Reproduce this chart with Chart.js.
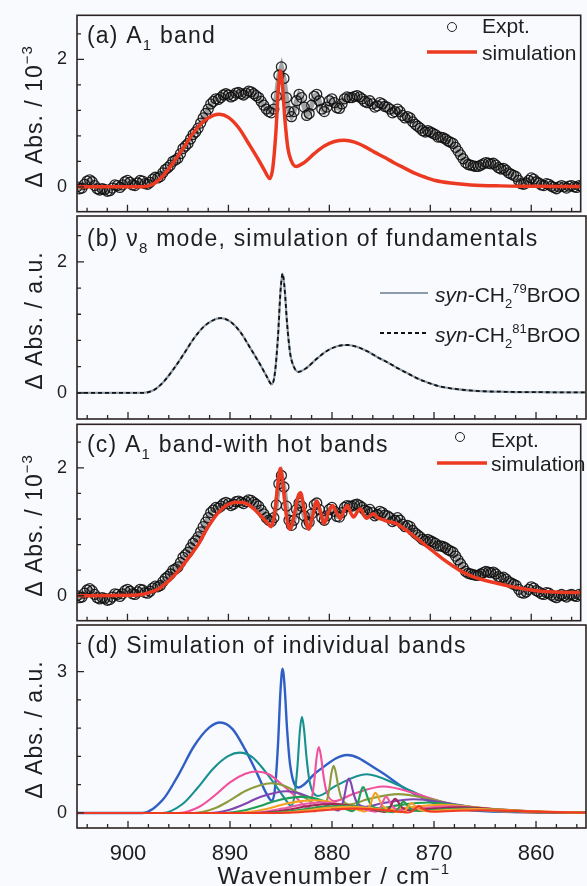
<!DOCTYPE html>
<html>
<head>
<meta charset="utf-8">
<script src="https://cdn.jsdelivr.net/npm/chart.js@4.4.0/dist/chart.umd.min.js"></script>
<style>
  body { margin: 0; background: #f9fafd; }
  #wrap { position: relative; width: 587px; height: 886px; overflow: hidden; background: #f9fafd; }
  canvas { position: absolute; left: 0; }
</style>
</head>
<body>
<div id="wrap">
  <canvas id="panelA" width="587" height="209" style="top:9px"></canvas>
  <canvas id="panelB" width="587" height="209" style="top:213px"></canvas>
  <canvas id="panelC" width="587" height="209" style="top:418px"></canvas>
  <canvas id="panelD" width="587" height="264" style="top:622px"></canvas>
</div>
<script>
// Axis ticks
const xMajor = [900, 890, 880, 870, 860];
const xMinor = [904, 902, 898, 896, 894, 892, 888, 886, 884, 882, 878, 876, 874, 872, 868, 866, 864, 862, 858, 856];
const yMajorABC = [0, 2];
const yMinorABC = [0.4, 0.8, 1.2, 1.6, 2.4];
const yMajorD = [0, 3];
const yMinorD = [0.6, 1.2, 1.8, 2.4, 3.6];

// Experimental spectrum (wavenumber / cm-1, dAbs / 1e-3)
const exptWn = [
  905, 904.75, 904.5, 904.25, 904, 903.75, 903.5, 903.25,
  903, 902.75, 902.5, 902.25, 902, 901.75, 901.5, 901.25,
  901, 900.75, 900.5, 900.25, 900, 899.75, 899.5, 899.25,
  899, 898.75, 898.5, 898.25, 898, 897.75, 897.5, 897.25,
  897, 896.75, 896.5, 896.25, 896, 895.75, 895.5, 895.25,
  895, 894.75, 894.5, 894.25, 894, 893.75, 893.5, 893.25,
  893, 892.75, 892.5, 892.25, 892, 891.75, 891.5, 891.25,
  891, 890.75, 890.5, 890.25, 890, 889.75, 889.5, 889.25,
  889, 888.75, 888.5, 888.25, 888, 887.75, 887.5, 887.25,
  887, 886.75, 886.5, 886.25, 886, 885.75, 885.5, 885.25,
  885, 884.75, 884.5, 884.25, 884, 883.75, 883.5, 883.25,
  883, 882.75, 882.5, 882.25, 882, 881.75, 881.5, 881.25,
  881, 880.75, 880.5, 880.25, 880, 879.75, 879.5, 879.25,
  879, 878.75, 878.5, 878.25, 878, 877.75, 877.5, 877.25,
  877, 876.75, 876.5, 876.25, 876, 875.75, 875.5, 875.25,
  875, 874.75, 874.5, 874.25, 874, 873.75, 873.5, 873.25,
  873, 872.75, 872.5, 872.25, 872, 871.75, 871.5, 871.25,
  871, 870.75, 870.5, 870.25, 870, 869.75, 869.5, 869.25,
  869, 868.75, 868.5, 868.25, 868, 867.75, 867.5, 867.25,
  867, 866.75, 866.5, 866.25, 866, 865.75, 865.5, 865.25,
  865, 864.75, 864.5, 864.25, 864, 863.75, 863.5, 863.25,
  863, 862.75, 862.5, 862.25, 862, 861.75, 861.5, 861.25,
  861, 860.75, 860.5, 860.25, 860, 859.75, 859.5, 859.25,
  859, 858.75, 858.5, 858.25, 858, 857.75, 857.5, 857.25,
  857, 856.75, 856.5, 856.25, 856, 855.75, 855.5, 855.25,
  855
];
const exptAbs = [
  0.00, -0.03, -0.02, 0.04, 0.09, 0.11, 0.08, 0.02,
  -0.03, -0.05, -0.03, -0.04, -0.07, -0.06, -0.02, 0.03,
  0.02, -0.01, 0.03, 0.08, 0.10, 0.07, 0.03, 0.02,
  0.06, 0.10, 0.09, 0.05, 0.04, 0.07, 0.12, 0.15,
  0.14, 0.16, 0.22, 0.27, 0.30, 0.34, 0.40, 0.42,
  0.45, 0.52, 0.60, 0.64, 0.68, 0.75, 0.82, 0.86,
  0.92, 1.00, 1.08, 1.15, 1.22, 1.30, 1.34, 1.38,
  1.37, 1.40, 1.44, 1.46, 1.44, 1.41, 1.43, 1.47,
  1.48, 1.46, 1.44, 1.47, 1.50, 1.49, 1.46, 1.43,
  1.40, 1.34, 1.28, 1.22, 1.18, 1.16, 1.22, 1.42,
  1.75, 1.88, 1.70, 1.40, 1.18, 1.10, 1.18, 1.35,
  1.45, 1.40, 1.25, 1.12, 1.15, 1.28, 1.42, 1.45,
  1.35, 1.22, 1.18, 1.25, 1.35, 1.38, 1.32, 1.24,
  1.23, 1.30, 1.38, 1.41, 1.40, 1.40, 1.42, 1.43,
  1.41, 1.38, 1.34, 1.32, 1.35, 1.30, 1.25, 1.27,
  1.32, 1.30, 1.26, 1.25, 1.22, 1.16, 1.18, 1.22,
  1.18, 1.12, 1.08, 1.10, 1.08, 1.02, 0.98, 0.95,
  0.92, 0.88, 0.86, 0.88, 0.86, 0.84, 0.82, 0.78,
  0.78, 0.77, 0.75, 0.72, 0.70, 0.68, 0.62, 0.56,
  0.50, 0.44, 0.38, 0.35, 0.34, 0.33, 0.32, 0.32,
  0.34, 0.36, 0.38, 0.37, 0.36, 0.37, 0.34, 0.30,
  0.28, 0.29, 0.26, 0.22, 0.20, 0.18, 0.16, 0.10,
  0.05, 0.04, 0.06, 0.10, 0.14, 0.12, 0.08, 0.06,
  0.03, 0.02, 0.05, 0.04, 0.01, -0.01, -0.03, 0.00,
  0.02, 0.00, -0.02, 0.01, 0.02, 0.00, -0.01, 0.02,
  0.01
];

// Simulated fundamental (panels a and b)
const fundWn = [905, 898.5, 897.5, 896.5, 895.5, 894.5, 893.5, 892.5, 891.5, 890.9,
  890, 889, 888, 887, 886.4, 885.9, 885.6, 885.3, 885.05, 884.85,
  884.65, 884.4, 884.1, 883.8, 883.3, 882.5, 881.5, 880.5, 879.5, 878.5,
  877.5, 876.5, 875.5, 874.5, 873.5, 872.5, 871.5, 870.5, 869.5, 868,
  866, 863, 860, 855];
const fundAbs = [0, 0, 0.04, 0.17, 0.37, 0.6, 0.84, 1.02, 1.12, 1.14,
  1.09, 0.93, 0.68, 0.42, 0.25, 0.13, 0.3, 0.85, 1.55, 1.82,
  1.6, 1.05, 0.6, 0.42, 0.32, 0.38, 0.52, 0.64, 0.71, 0.73,
  0.7, 0.63, 0.54, 0.46, 0.37, 0.29, 0.21, 0.15, 0.1, 0.06,
  0.03, 0.015, 0.01, 0.005];

// Simulation with hot bands (panel c)
const hotWn = [905, 899, 898, 897, 896, 895, 894, 893, 892, 891,
  890, 889, 888.2, 887.5, 886.8, 886.2, 885.75, 885.4, 885.1, 884.85,
  884.6, 884.3, 883.9, 883.5, 883.1, 882.85, 882.55, 882.05, 881.65, 881.25,
  880.95, 880.5, 880.1, 879.7, 879.3, 878.9, 878.55, 878.2, 877.9, 877.6,
  877.2, 876.9, 876.6, 876.3, 875.9, 875.6, 875.2, 874.7, 874.2, 873.4,
  872.8, 872, 871.2, 870.4, 869.6, 868.8, 867.8, 866.8, 865.8, 864.8,
  863.5, 862.2, 860.5, 859, 857, 855];
const hotAbs = [0, 0.01, 0.04, 0.1, 0.22, 0.38, 0.58, 0.8, 1.08, 1.3,
  1.43, 1.46, 1.44, 1.36, 1.25, 1.15, 1.08, 1.3, 1.75, 1.99,
  1.75, 1.3, 1.04, 1.25, 1.55, 1.61, 1.4, 1.04, 1.25, 1.48,
  1.35, 1.13, 1.3, 1.41, 1.3, 1.21, 1.33, 1.41, 1.3, 1.23,
  1.32, 1.36, 1.26, 1.21, 1.26, 1.28, 1.22, 1.19, 1.16, 1.13,
  1.07, 0.98, 0.88, 0.78, 0.68, 0.58, 0.47, 0.37, 0.3, 0.25,
  0.2, 0.15, 0.1, 0.07, 0.055, 0.05];

// Individual bands (panel d)
const blueWn = [905, 898.55, 896.55, 895.05, 893.55, 892.05, 890.95, 889.75, 888.55, 887.35, 886.45, 885.9, 885.6, 885.3, 885.05, 884.85, 884.65, 884.4, 884.1, 883.3, 881.5, 878.5, 875.5, 872.5, 869.5, 866, 860.85, 855];
const blueAbs = [0, 0, 0.29, 0.81, 1.41, 1.81, 1.92, 1.78, 1.36, 0.84, 0.42, 0.26, 0.5, 1.43, 2.6, 3.06, 2.69, 1.76, 1.01, 0.54, 0.87, 1.23, 0.91, 0.47, 0.17, 0.05, 0.017, 0.01];
const tealWn = [905, 896.65, 894.65, 893.15, 891.65, 890.15, 889.05, 887.85, 886.65, 885.45, 884.55, 884, 883.7, 883.4, 883.15, 882.95, 882.75, 882.5, 882.2, 881.4, 879.6, 876.6, 873.6, 870.6, 867.6, 864.1, 858.95, 855];
const tealAbs = [0, 0, 0.19, 0.54, 0.94, 1.21, 1.28, 1.19, 0.91, 0.56, 0.28, 0.15, 0.34, 0.95, 1.74, 2.04, 1.79, 1.18, 0.67, 0.36, 0.58, 0.82, 0.6, 0.31, 0.11, 0.034, 0.011, 0.006];
const pinkWn = [905, 895, 893, 891.5, 890, 888.5, 887.4, 886.2, 885, 883.8, 882.9, 882.35, 882.05, 881.75, 881.5, 881.3, 881.1, 880.85, 880.55, 879.75, 877.95, 874.95, 871.95, 868.95, 865.95, 862.45, 857.3, 855];
const pinkAbs = [0, 0, 0.13, 0.37, 0.65, 0.83, 0.88, 0.82, 0.62, 0.39, 0.19, 0.1, 0.23, 0.65, 1.19, 1.4, 1.23, 0.81, 0.46, 0.25, 0.4, 0.56, 0.42, 0.22, 0.077, 0.023, 0.008, 0.006];
const oliveWn = [905, 893.55, 891.55, 890.05, 888.55, 887.05, 885.95, 884.75, 883.55, 882.35, 881.45, 880.9, 880.6, 880.3, 880.05, 879.85, 879.65, 879.4, 879.1, 878.3, 876.5, 873.5, 870.5, 867.5, 864.5, 861, 855.85, 855];
const oliveAbs = [0, 0, 0.094, 0.26, 0.46, 0.59, 0.63, 0.58, 0.45, 0.28, 0.14, 0.072, 0.17, 0.47, 0.85, 1.0, 0.88, 0.58, 0.33, 0.18, 0.29, 0.4, 0.3, 0.15, 0.055, 0.017, 0.006, 0.005];
const purpleWn = [905, 892.05, 890.05, 888.55, 887.05, 885.55, 884.45, 883.25, 882.05, 880.85, 879.95, 879.4, 879.1, 878.8, 878.55, 878.35, 878.15, 877.9, 877.6, 876.8, 875, 872, 869, 866, 863, 859.5, 855];
const purpleAbs = [0, 0, 0.068, 0.19, 0.34, 0.43, 0.46, 0.42, 0.32, 0.2, 0.1, 0.052, 0.12, 0.34, 0.62, 0.73, 0.64, 0.42, 0.24, 0.13, 0.21, 0.29, 0.22, 0.11, 0.04, 0.012, 0.005];
const greenWn = [905, 890.65, 888.65, 887.15, 885.65, 884.15, 883.05, 881.85, 880.65, 879.45, 878.55, 878, 877.7, 877.4, 877.15, 876.95, 876.75, 876.5, 876.2, 875.4, 873.6, 870.6, 867.6, 864.6, 861.6, 858.1, 855];
const greenAbs = [0, 0, 0.051, 0.14, 0.25, 0.32, 0.34, 0.32, 0.24, 0.15, 0.075, 0.039, 0.09, 0.26, 0.47, 0.55, 0.48, 0.32, 0.18, 0.096, 0.16, 0.22, 0.16, 0.084, 0.03, 0.009, 0.004];
const orangeWn = [905, 889.45, 887.45, 885.95, 884.45, 882.95, 881.85, 880.65, 879.45, 878.25, 877.35, 876.8, 876.5, 876.2, 875.95, 875.75, 875.55, 875.3, 875, 874.2, 872.4, 869.4, 866.4, 863.4, 860.4, 856.9, 855];
const orangeAbs = [0, 0, 0.04, 0.11, 0.2, 0.25, 0.27, 0.25, 0.19, 0.12, 0.059, 0.031, 0.07, 0.2, 0.36, 0.43, 0.38, 0.25, 0.14, 0.075, 0.12, 0.17, 0.13, 0.066, 0.024, 0.007, 0.004];
const pink2Wn = [905, 888.4, 886.4, 884.9, 883.4, 881.9, 880.8, 879.6, 878.4, 877.2, 876.3, 875.75, 875.45, 875.15, 874.9, 874.7, 874.5, 874.25, 873.95, 873.15, 871.35, 868.35, 865.35, 862.35, 859.35, 855.85, 855];
const pink2Abs = [0, 0, 0.032, 0.091, 0.16, 0.21, 0.22, 0.2, 0.15, 0.095, 0.048, 0.025, 0.057, 0.16, 0.29, 0.35, 0.3, 0.2, 0.11, 0.061, 0.099, 0.14, 0.1, 0.053, 0.019, 0.006, 0.005];
const maroonWn = [905, 887.5, 885.5, 884, 882.5, 881, 879.9, 878.7, 877.5, 876.3, 875.4, 874.85, 874.55, 874.25, 874, 873.8, 873.6, 873.35, 873.05, 872.25, 870.45, 867.45, 864.45, 861.45, 858.45, 855];
const maroonAbs = [0, 0, 0.028, 0.079, 0.14, 0.18, 0.19, 0.17, 0.13, 0.083, 0.041, 0.021, 0.05, 0.14, 0.26, 0.3, 0.26, 0.17, 0.1, 0.053, 0.086, 0.12, 0.089, 0.046, 0.017, 0.006];
const green2Wn = [905, 886.7, 884.7, 883.2, 881.7, 880.2, 879.1, 877.9, 876.7, 875.5, 874.6, 874.05, 873.75, 873.45, 873.2, 873, 872.8, 872.55, 872.25, 871.45, 869.65, 866.65, 863.65, 860.65, 857.65, 855];
const green2Abs = [0, 0, 0.022, 0.062, 0.11, 0.14, 0.15, 0.14, 0.11, 0.065, 0.033, 0.017, 0.039, 0.11, 0.2, 0.24, 0.21, 0.14, 0.078, 0.042, 0.068, 0.095, 0.07, 0.036, 0.013, 0.005];
const orange2Wn = [905, 885.9, 883.9, 882.4, 880.9, 879.4, 878.3, 877.1, 875.9, 874.7, 873.8, 873.25, 872.95, 872.65, 872.4, 872.2, 872, 871.75, 871.45, 870.65, 868.85, 865.85, 862.85, 859.85, 856.85, 855];
const orange2Abs = [0, 0, 0.02, 0.055, 0.097, 0.12, 0.13, 0.12, 0.093, 0.058, 0.029, 0.015, 0.035, 0.098, 0.18, 0.21, 0.18, 0.12, 0.069, 0.037, 0.06, 0.084, 0.062, 0.032, 0.012, 0.005];
const redWn = [905, 885.2, 883.2, 881.7, 880.2, 878.7, 877.6, 876.4, 875.2, 874, 873.1, 872.55, 872.25, 871.95, 871.7, 871.5, 871.3, 871.05, 870.75, 869.95, 868.15, 865.15, 862.15, 859.15, 856.15, 855];
const redAbs = [0, 0, 0.014, 0.038, 0.067, 0.086, 0.091, 0.085, 0.065, 0.04, 0.02, 0.01, 0.024, 0.068, 0.12, 0.146, 0.128, 0.084, 0.048, 0.026, 0.042, 0.058, 0.043, 0.022, 0.008, 0.004];

const bandWn = [blueWn, tealWn, pinkWn, oliveWn, purpleWn, greenWn, orangeWn, pink2Wn, maroonWn, green2Wn, orange2Wn, redWn];
const bandAbs = [blueAbs, tealAbs, pinkAbs, oliveAbs, purpleAbs, greenAbs, orangeAbs, pink2Abs, maroonAbs, green2Abs, orange2Abs, redAbs];
const bandColors = ["#2f5fc4", "#18908f", "#f0509c", "#8e9a3e", "#8045b3", "#1f9e57",
  "#f5a11f", "#ea5ba3", "#a0255a", "#2a9a4a", "#f7a030", "#ef3b24"];

const FONT = '"Liberation Sans", Arial, Helvetica, sans-serif';
const BG = "#f9fafd";
const INK = "#1e1e1e";
const RED = "#ec3a22";

function pts(xs, ys) {
  return xs.map((x, i) => ({ x: x, y: ys[i] }));
}

// rich text: parts are [text, kind], kind = "" | "i" | "sub" | "sup"
function partFont(p, size) {
  const small = p[1] === "sub" || p[1] === "sup";
  const s = small ? Math.round(size * 0.64) : size;
  return (p[1] === "i" ? "italic " : "") + s + "px " + FONT;
}
function richWidth(ctx, parts, size) {
  let w = 0;
  parts.forEach((p) => {
    ctx.font = partFont(p, size);
    w += ctx.measureText(p[0]).width;
  });
  return w;
}
function drawRich(ctx, parts, x, y, size) {
  let cx = x;
  parts.forEach((p) => {
    ctx.font = partFont(p, size);
    let dy = 0;
    if (p[1] === "sub") dy = size * 0.3;
    if (p[1] === "sup") dy = -size * 0.42;
    ctx.fillText(p[0], cx, y + dy);
    cx += ctx.measureText(p[0]).width;
  });
}

const panelPlugin = {
  id: "panel",
  afterDraw(chart, args, opts) {
    const ctx = chart.ctx;
    const a = chart.chartArea;
    const xs = chart.scales.x;
    const ys = chart.scales.y;
    const top = opts.top;
    ctx.save();
    ctx.strokeStyle = "#2b2424";
    ctx.lineWidth = 1.3;
    ctx.beginPath();
    xMajor.forEach((v) => { const p = xs.getPixelForValue(v); ctx.moveTo(p, a.bottom); ctx.lineTo(p, a.bottom - 7); });
    xMinor.forEach((v) => { const p = xs.getPixelForValue(v); ctx.moveTo(p, a.bottom); ctx.lineTo(p, a.bottom - 4); });
    opts.yMajor.forEach((v) => { const p = ys.getPixelForValue(v); ctx.moveTo(a.left, p); ctx.lineTo(a.left + 7, p); });
    opts.yMinor.forEach((v) => { const p = ys.getPixelForValue(v); ctx.moveTo(a.left, p); ctx.lineTo(a.left + 4, p); });
    ctx.stroke();
    ctx.lineWidth = 1.6;
    ctx.strokeRect(a.left, a.top, a.right - a.left, a.bottom - a.top);

    ctx.fillStyle = INK;
    ctx.textAlign = "left";
    ctx.textBaseline = "alphabetic";
    ctx.letterSpacing = "1.2px";
    drawRich(ctx, opts.label, 87, opts.labelY - top, 23);

    ctx.save();
    ctx.letterSpacing = "1px";
    ctx.translate(42, (a.top + a.bottom) / 2 + 3);
    ctx.rotate(-Math.PI / 2);
    const w = richWidth(ctx, opts.yTitle, 23);
    drawRich(ctx, opts.yTitle, -w / 2, 0, 23);
    ctx.restore();

    ctx.letterSpacing = "0px";
    if (opts.legend) opts.legend(ctx, top);
    if (opts.xTitle) {
      ctx.letterSpacing = "1.3px";
      const tw = richWidth(ctx, opts.xTitle, 24);
      drawRich(ctx, opts.xTitle, 334 - tw / 2, 884 - top, 24);
    }
    ctx.restore();
  },
};

function circleKey(ctx, x, y) {
  ctx.beginPath();
  ctx.arc(x, y, 4.5, 0, Math.PI * 2);
  ctx.lineWidth = 1;
  ctx.strokeStyle = INK;
  ctx.stroke();
}
function lineKey(ctx, x1, x2, y, color, width, dash) {
  ctx.beginPath();
  ctx.setLineDash(dash || []);
  ctx.moveTo(x1, y);
  ctx.lineTo(x2, y);
  ctx.strokeStyle = color;
  ctx.lineWidth = width;
  ctx.stroke();
  ctx.setLineDash([]);
}
function legendText(ctx, parts, x, y) {
  ctx.fillStyle = INK;
  drawRich(ctx, parts, x, y, 21);
}

function legendA(ctx, top) {
  circleKey(ctx, 452, 27 - top);
  legendText(ctx, [["Expt.", ""]], 482, 33 - top);
  lineKey(ctx, 427, 477, 52 - top, RED, 3.5);
  legendText(ctx, [["simulation", ""]], 482, 60 - top);
}
function legendB(ctx, top) {
  lineKey(ctx, 380, 428, 293 - top, "#8d9cab", 2);
  legendText(ctx, [["syn", "i"], ["-CH", ""], ["2", "sub"], ["79", "sup"], ["BrOO", ""]], 435, 302 - top);
  lineKey(ctx, 380, 428, 333 - top, "#111", 1.8, [4, 3]);
  legendText(ctx, [["syn", "i"], ["-CH", ""], ["2", "sub"], ["81", "sup"], ["BrOO", ""]], 435, 342 - top);
}
function legendC(ctx, top) {
  circleKey(ctx, 460, 437 - top);
  legendText(ctx, [["Expt.", ""]], 491, 447 - top);
  lineKey(ctx, 437, 487, 463 - top, RED, 3.5);
  legendText(ctx, [["simulation", ""]], 491, 471 - top);
}

function exptDataset() {
  return {
    data: pts(exptWn, exptAbs),
    showLine: true,
    borderColor: "rgba(30,30,30,0.4)",
    borderWidth: 5,
    pointRadius: 5,
    pointBorderWidth: 1.3,
    pointBorderColor: "rgba(15,15,15,0.9)",
    pointBackgroundColor: "rgba(0,0,0,0)",
    order: 5,
  };
}

function makePanel(id, top, datasets, yMin, yMax, panelOpts, bottomAxis) {
  const ctx = document.getElementById(id).getContext("2d");
  panelOpts.top = top;
  return new Chart(ctx, {
    type: "line",
    data: { datasets: datasets },
    options: {
      responsive: false,
      animation: false,
      devicePixelRatio: 1,
      layout: { padding: { top: 3, bottom: bottomAxis ? 0 : 3, left: 0, right: 1 } },
      plugins: { legend: { display: false }, tooltip: { enabled: false }, panel: panelOpts },
      scales: {
        x: {
          type: "linear",
          min: 855.1,
          max: 905,
          reverse: true,
          display: !!bottomAxis,
          afterFit: (s) => {
            s.height = bottomAxis ? 58 : 0;
            s.paddingLeft = 0;
            s.paddingRight = 0;
          },
          afterBuildTicks: (s) => { s.ticks = xMajor.map((v) => ({ value: v })); },
          grid: { display: false, drawTicks: false },
          border: { display: false },
          ticks: { padding: 13, color: INK, font: { size: 22, family: FONT } },
        },
        y: {
          min: yMin,
          max: yMax,
          afterFit: (s) => {
            s.width = 77;
            s.paddingTop = 0;
            s.paddingBottom = 0;
          },
          afterBuildTicks: (s) => { s.ticks = panelOpts.yMajor.map((v) => ({ value: v })); },
          grid: { display: false, drawTicks: false },
          border: { display: false },
          ticks: { padding: 10, color: INK, font: { size: 18, family: FONT } },
        },
      },
    },
    plugins: [panelPlugin],
  });
}

// (a) A1 band
makePanel("panelA", 9, [
  { data: pts(fundWn, fundAbs), borderColor: RED, borderWidth: 3.5, pointRadius: 0, cubicInterpolationMode: "monotone", order: 0 },
  exptDataset(),
], -0.39, 2.69, {
  labelY: 43,
  label: [["(a) A", ""], ["1", "sub"], [" band", ""]],
  yTitle: [["\u0394 Abs. / 10", ""], ["\u22123", "sup"]],
  yMajor: yMajorABC, yMinor: yMinorABC,
  legend: legendA,
});

// (b) nu8 fundamentals
makePanel("panelB", 213, [
  { data: pts(fundWn, fundAbs), borderColor: "#111", borderWidth: 1.8, borderDash: [4, 3], pointRadius: 0, cubicInterpolationMode: "monotone", order: 0 },
  { data: pts(fundWn, fundAbs), borderColor: "#8d9cab", borderWidth: 2.2, pointRadius: 0, cubicInterpolationMode: "monotone", order: 1 },
], -0.40, 2.70, {
  labelY: 246,
  label: [["(b) \u03bd", ""], ["8", "sub"], [" mode, simulation of fundamentals", ""]],
  yTitle: [["\u0394 Abs. / a.u.", ""]],
  yMajor: yMajorABC, yMinor: yMinorABC,
  legend: legendB,
});

// (c) with hot bands
makePanel("panelC", 418, [
  { data: pts(hotWn, hotAbs), borderColor: RED, borderWidth: 3.5, pointRadius: 0, cubicInterpolationMode: "monotone", order: 0 },
  exptDataset(),
], -0.39, 2.68, {
  labelY: 452,
  label: [["(c) A", ""], ["1", "sub"], [" band-with hot bands", ""]],
  yTitle: [["\u0394 Abs. / 10", ""], ["\u22123", "sup"]],
  yMajor: yMajorABC, yMinor: yMinorABC,
  legend: legendC,
});

// (d) individual bands
const bandSets = bandWn.map((wn, i) => ({
  data: pts(wn, bandAbs[i]),
  borderColor: bandColors[i],
  borderWidth: i === 0 ? 2.4 : 2.1,
  pointRadius: 0,
  cubicInterpolationMode: "monotone",
  order: bandWn.length - i,
}));
makePanel("panelD", 622, bandSets, -0.32, 3.99, {
  labelY: 653,
  label: [["(d) Simulation of individual bands", ""]],
  yTitle: [["\u0394 Abs. / a.u.", ""]],
  yMajor: yMajorD, yMinor: yMinorD,
  xTitle: [["Wavenumber / cm", ""], ["\u22121", "sup"]],
}, true);
</script>
</body>
</html>
